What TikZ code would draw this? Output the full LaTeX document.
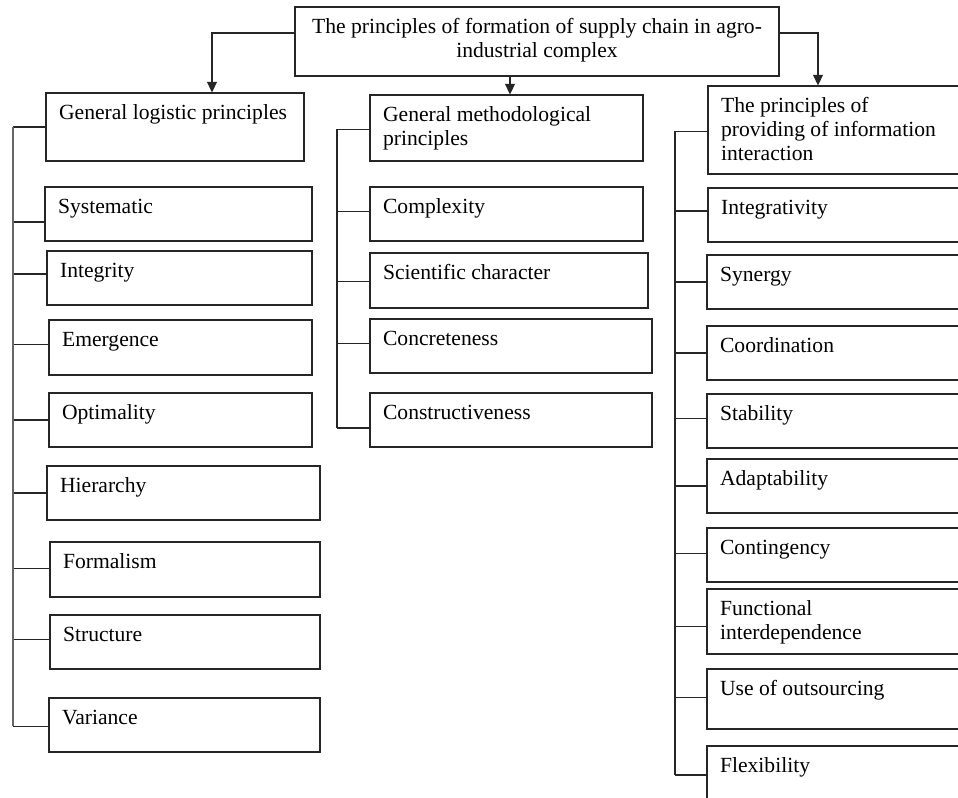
\documentclass[tikz,border=0pt]{standalone}
\usepackage{fontspec}
\setmainfont{Liberation Serif}
\usetikzlibrary{arrows.meta,fit}
\tikzset{
  pbox/.style={draw=black!85, line width=0.8pt, inner sep=0pt},
  ptext/.style={anchor=base west, inner sep=0pt, font=\fontsize{16.2}{18}\selectfont},
  branch/.style={draw=black!85, line width=0.8pt},
  arr/.style={branch, -{Triangle[width=7.5pt,length=8pt]}}
}
% box from (x1,y1) to (x2,y2), text at its top left
\newcommand{\princ}[6]{%
  \node[pbox, fit={(#2,#3) (#4,#5)}] (#1) {};
  \node[ptext] at ([xshift=10pt,yshift=-20.25pt]#1.north west)
    {\begin{tabular}[t]{@{}l@{}}#6\end{tabular}};}
\begin{document}
\begin{tikzpicture}[x=0.75pt, y=-0.75pt]
\useasboundingbox (0,0) rectangle (958,798);
\clip (0,0) rectangle (958,798);
% top
\node[pbox, fit={(295,7) (779,76)}] (top) {};
\node[ptext, anchor=base] at ([yshift=-20.25pt]top.north)
  {\begin{tabular}[t]{@{}c@{}}The principles of formation of supply chain in agro-\\industrial complex\end{tabular}};
% left column
\princ{glp}{46}{93}{304}{161}{General logistic principles}
\princ{sys}{45}{187}{312}{241}{Systematic}
\princ{itg}{47}{251}{312}{305}{Integrity}
\princ{emg}{49}{320}{312}{375}{Emergence}
\princ{opt}{49}{393}{312}{447}{Optimality}
\princ{hie}{47}{466}{320}{520}{Hierarchy}
\princ{frm}{50}{542}{320}{597}{Formalism}
\princ{str}{50}{615}{320}{669}{Structure}
\princ{var}{49}{698}{320}{752}{Variance}
% middle column
\princ{gmp}{370}{95}{643}{161}{General methodological\\principles}
\princ{cpx}{370}{187}{643}{241}{Complexity}
\princ{sci}{370}{253}{648}{308}{Scientific character}
\princ{ccr}{370}{319}{652}{373}{Concreteness}
\princ{cst}{370}{393}{652}{447}{Constructiveness}
% right column
\princ{pii}{708}{86}{962}{174}{The principles of\\providing of information\\interaction}
\princ{igv}{708}{188}{962}{242}{Integrativity}
\princ{syn}{707}{255}{962}{309}{Synergy}
\princ{crd}{707}{326}{962}{380}{Coordination}
\princ{stb}{707}{394}{962}{448}{Stability}
\princ{adp}{707}{459}{962}{513}{Adaptability}
\princ{ctg}{707}{528}{962}{582}{Contingency}
\princ{fid}{707}{589}{962}{654}{Functional\\interdependence}
\princ{uoo}{707}{669}{962}{729}{Use of outsourcing}
\princ{flx}{707}{746}{962}{804}{Flexibility}
% arrows
\draw[arr] (top.west |- 0,33) -| (glp.north -| 212,0);
\draw[arr] (top.south -| 510,0) -- (gmp.north -| 510,0);
\draw[arr] (top.east |- 0,33) -| (pii.north -| 818,0);
% branches
\foreach \b/\d in {glp/0,sys/-6,itg/3,emg/2,opt/0,hie/0,frm/1,str/2,var/-1}
  \draw[branch] ([yshift=\d pt]\b.west) -- ([yshift=\d pt]\b.west -| 13,0);
\draw[branch, draw=black!60] (glp.west -| 13,0) -- ([yshift=-1pt]var.west -| 13,0);
\foreach \b/\d in {gmp/-1,cpx/2,sci/-1,ccr/2,cst/-6}
  \draw[branch] ([yshift=\d pt]\b.west) -- ([yshift=\d pt]\b.west -| 337,0);
\draw[branch] ([yshift=-1pt]gmp.west -| 337,0) -- ([yshift=-6pt]cst.west -| 337,0);
\foreach \b/\d in {pii/-1,igv/3,syn/0,crd/0,stb/2,adp/0,ctg/1,fid/-4,uoo/1,flx/0}
  \draw[branch] ([yshift=\d pt]\b.west) -- ([yshift=\d pt]\b.west -| 675,0);
\draw[branch] ([yshift=-1pt]pii.west -| 675,0) -- (flx.west -| 675,0);
\end{tikzpicture}
\end{document}
